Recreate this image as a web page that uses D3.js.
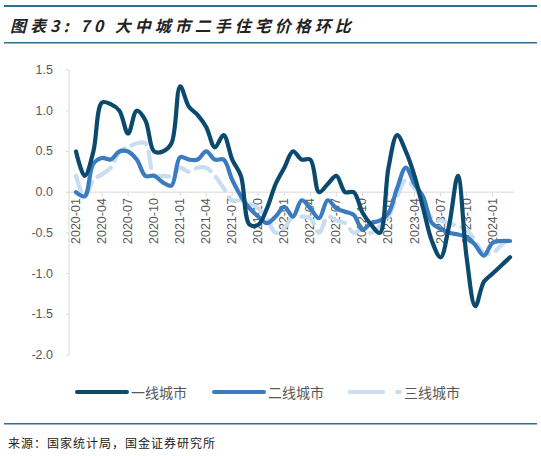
<!DOCTYPE html>
<html><head><meta charset="utf-8">
<script src="https://cdn.jsdelivr.net/npm/d3@7"></script>
<style>body{margin:0;background:#fff}</style>
</head><body>
<svg id="chart" width="541" height="456"></svg>
<script>
const months = d3.range(51).map(i => {
    const y = 2020 + Math.floor(i / 12), m = i % 12 + 1;
    return y + '-' + String(m).padStart(2, '0');
});
const tier1 = [0.5,0.2,0.5,1.1,1.08,1.0,0.72,1.0,0.88,0.5,0.5,0.6,1.3,1.05,0.95,0.8,0.55,0.7,0.4,0.2,-0.4,-0.4,-0.2,0.1,
    0.3,0.5,0.4,0.4,0.0,0.1,0.2,0.0,0.0,-0.25,-0.4,-0.5,0.3,0.7,0.5,0.2,-0.2,-0.6,-0.8,-0.4,0.2,-0.8,-1.4,-1.1,-1.0,-0.9,-0.8];
const tier2 = [0.0,-0.05,0.35,0.42,0.4,0.5,0.5,0.4,0.2,0.2,0.12,0.08,0.43,0.4,0.4,0.5,0.4,0.4,0.15,-0.05,
    -0.2,-0.3,-0.38,-0.3,-0.18,-0.3,-0.1,-0.2,-0.32,-0.1,-0.2,-0.24,-0.28,-0.46,-0.38,-0.35,-0.26,0.05,0.3,0.1,
    -0.06,-0.38,-0.45,-0.5,-0.52,-0.55,-0.65,-0.78,-0.62,-0.6,-0.6];
const tier3 = [0.2,-0.06,0.15,0.22,0.3,0.5,0.55,0.6,0.6,0.2,0.2,0.2,0.3,0.25,0.3,0.3,0.2,0.05,-0.1,-0.1,
    -0.14,-0.2,-0.32,-0.5,-0.44,-0.3,-0.3,-0.32,-0.5,-0.3,-0.35,-0.38,-0.5,-0.45,-0.5,-0.42,-0.3,-0.05,0.15,0.05,
    -0.1,-0.32,-0.35,-0.38,-0.42,-0.46,-0.6,-0.75,-0.75,-0.65,-0.58];
const yTicks = [1.5, 1.0, 0.5, 0.0, -0.5, -1.0, -1.5, -2.0];
const seriesNames = ['一线城市', '二线城市', '三线城市'];

const svg = d3.select('#chart');
const fontCN = '"Noto Sans CJK SC", sans-serif';

// header rules and title
svg.append('rect').attr('x', 4).attr('y', 5).attr('width', 533).attr('height', 2).attr('fill', '#2f6f8f');
svg.append('rect').attr('x', 4).attr('y', 42).attr('width', 533).attr('height', 1.5).attr('fill', '#2f6f8f');
svg.append('text').attr('x', 10).attr('y', 32).text('图表3: 70 大中城市二手住宅价格环比')
    .attr('font-family', fontCN).attr('font-size', 16).attr('font-weight', 'bold')
    .attr('font-style', 'italic').attr('fill', '#222').attr('letter-spacing', 4);

const x = d3.scaleLinear().domain([0, 50]).range([76, 510]);
const y = d3.scaleLinear().domain([-2, 1.5]).range([355, 70]);

// y axis
svg.append('line').attr('x1', 69).attr('x2', 69).attr('y1', 70).attr('y2', 355).attr('stroke', '#d9d9d9');
yTicks.forEach(t => {
    svg.append('line').attr('x1', 66).attr('x2', 69).attr('y1', y(t)).attr('y2', y(t)).attr('stroke', '#d9d9d9');
    svg.append('text').attr('x', 53).attr('y', y(t) + 4).attr('text-anchor', 'end')
        .attr('font-family', 'Liberation Sans, Arial').attr('font-size', 12.5).attr('fill', '#595959')
        .text(t.toFixed(1));
});

// x axis at zero
svg.append('line').attr('x1', 69).attr('x2', 514).attr('y1', y(0)).attr('y2', y(0)).attr('stroke', '#d9d9d9');
months.forEach((m, i) => {
    if (i % 3 !== 0) return;
    svg.append('line').attr('x1', x(i)).attr('x2', x(i)).attr('y1', y(0)).attr('y2', y(0) + 4).attr('stroke', '#d9d9d9');
    svg.append('text').attr('transform', `translate(${x(i) + 4},${y(0) + 6}) rotate(-90)`)
        .attr('text-anchor', 'end').attr('font-family', 'Liberation Sans, Arial').attr('font-size', 12.5)
        .attr('fill', '#595959').text(m);
});

const line = d3.line().x((d, i) => x(i)).y(d => y(d)).curve(d3.curveCatmullRom.alpha(0.5));
const styles = [
    {data: tier3, color: '#c9ddf1', dash: '16,8'},
    {data: tier2, color: '#3b7cc0', dash: null},
    {data: tier1, color: '#0b4a6e', dash: null}
];
styles.forEach(s => {
    svg.append('path').attr('d', line(s.data)).attr('fill', 'none').attr('stroke', s.color)
        .attr('stroke-width', 4.2).attr('stroke-linecap', 'round').attr('stroke-linejoin', 'round')
        .attr('stroke-dasharray', s.dash);
});

// legend
const legend = [
    {x: 77, color: '#0b4a6e', dash: null},
    {x: 214, color: '#3b7cc0', dash: null},
    {x: 350, color: '#c9ddf1', dash: '33,14'}
];
legend.forEach((l, i) => {
    svg.append('line').attr('x1', l.x).attr('x2', l.x + 50).attr('y1', 392).attr('y2', 392)
        .attr('stroke', l.color).attr('stroke-width', 4).attr('stroke-linecap', 'round')
        .attr('stroke-dasharray', l.dash);
    svg.append('text').attr('x', l.x + 54).attr('y', 398).text(seriesNames[i])
        .attr('font-family', fontCN).attr('font-size', 14).attr('fill', '#595959');
});

// footer
svg.append('rect').attr('x', 4).attr('y', 423).attr('width', 533).attr('height', 1.5).attr('fill', '#2f6f8f');
svg.append('text').attr('x', 8).attr('y', 448).text('来源：国家统计局，国金证券研究所')
    .attr('font-family', fontCN).attr('font-size', 12).attr('fill', '#222').attr('letter-spacing', 1);
</script>
</body></html>
